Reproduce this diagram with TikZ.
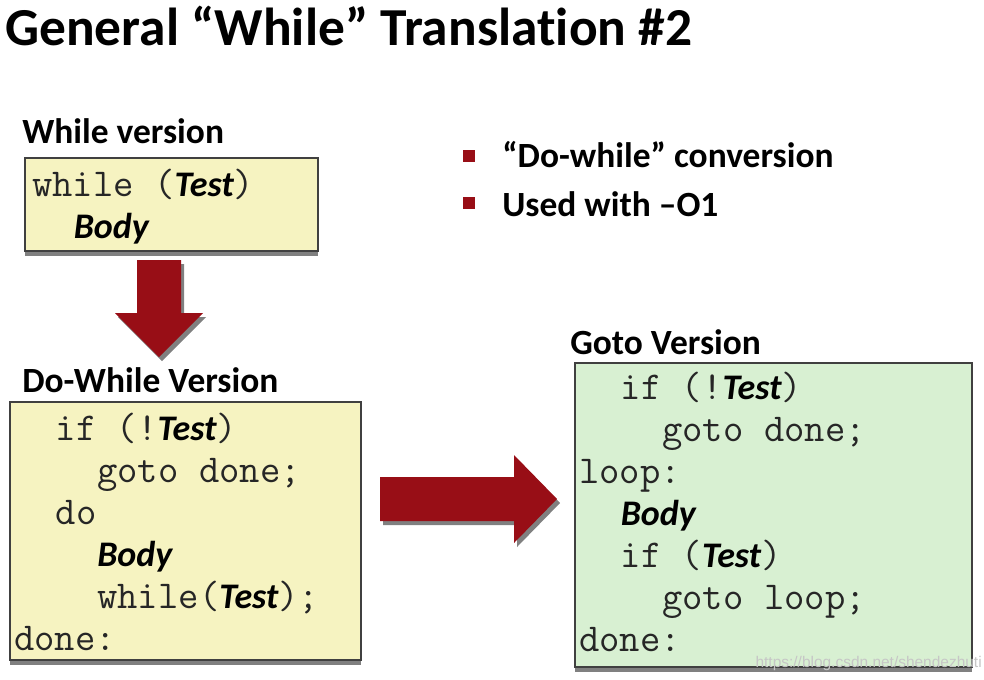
\documentclass[tikz,border=0pt]{standalone}
\usepackage{fontspec}
\setmainfont{Carlito}[Ligatures=NoCommon]
\newfontfamily\markfont{Liberation Sans}
\usetikzlibrary{positioning}
\definecolor{boxyellow}{RGB}{246,243,193}
\definecolor{boxgreen}{RGB}{216,240,210}
\definecolor{arrowred}{RGB}{152,14,22}
\definecolor{shadowgray}{RGB}{128,128,128}
\definecolor{rimgray}{RGB}{64,64,64}
\newcommand{\slot}[1]{{\color{black}\rmfamily\bfseries\itshape\fontsize{25.6}{30}\selectfont #1}}
\tikzset{
  code/.style={anchor=base west, inner sep=0pt, text=black!85, font=\ttfamily\fontsize{28.1}{30}\selectfont},
  heading/.style={anchor=base west, inner sep=0pt, font=\bfseries\fontsize{25.2}{28}\selectfont},
  codebox/.style={draw=rimgray, line width=0.9pt},
  boxshadow/.style={fill=shadowgray},
  bigarrow/.style={fill=arrowred},
}

\begin{document}
\begin{tikzpicture}[x=0.025cm, y=-0.025cm]
    \useasboundingbox[fill=white] (0,0) rectangle (984,679);
    % title and bullets
    \node[anchor=base west, inner sep=0pt, font=\bfseries\fontsize{38}{44}\selectfont] (title) at (5,45) {General “While” Translation \#2};
    \fill[arrowred] (463,150) rectangle (475,162);
    \node[heading] (bullet1) at (502,167) {“Do-while” conversion};
    \fill[arrowred] (463,197) rectangle (475,209);
    \node[heading] (bullet2) at (502,216) {Used with –O1};
    % while version
    \node[heading] (whilehead) at (22,143) {While version};
    \fill[boxshadow] (25,163) rectangle (318,256);
    \draw[codebox, fill=boxyellow] (25,158) rectangle (318,251);
    \foreach \n/\txt [count=\k from 0] in {0/while (\slot{Test}), 2/\slot{Body}}
        \node[code] (wv\k) at ({32+\n*20.75},{196+42*\k}) {\txt};
    % down arrow
    \fill[shadowgray] (140,264) -- (184,264) -- (184,317) -- (206,317) -- (162,361) -- (118,317) -- (140,317) -- cycle;
    \fill[bigarrow] (137,260) -- (181,260) -- (181,313) -- (203,313) -- (159,357) -- (115,313) -- (137,313) -- cycle;
    % do-while version
    \node[heading] (dohead) at (22,392) {Do-While Version};
    \fill[boxshadow] (10,407) rectangle (361,665);
    \draw[codebox, fill=boxyellow] (10,402) rectangle (361,660);
    \foreach \n/\txt [count=\k from 0] in {2/if (!\slot{Test}), 4/goto done;, 2/do, 4/\slot{Body}, 4/while(\slot{Test});, 0/done:}
        \node[code] (dw\k) at ({14+\n*20.75},{440+42*\k}) {\txt};
    % right arrow
    \fill[shadowgray] (383,481) -- (517,481) -- (517,459) -- (560,503) -- (517,547) -- (517,525) -- (383,525) -- cycle;
    \fill[bigarrow] (380,477) -- (514,477) -- (514,455) -- (557,499) -- (514,543) -- (514,521) -- (380,521) -- cycle;
    % goto version
    \node[heading] (gotohead) at (570,354) {Goto Version};
    \fill[boxshadow] (575,368) rectangle (972,672);
    \draw[codebox, fill=boxgreen] (575,363) rectangle (972,667);
    \foreach \n/\txt [count=\k from 0] in {2/if (!\slot{Test}), 4/goto done;, 0/loop:, 2/\slot{Body}, 2/if (\slot{Test}), 4/goto loop;, 0/done:}
        \node[code] (gt\k) at ({579+\n*20.75},{399+42*\k}) {\txt};
    \node[anchor=base east, inner sep=0pt, text=gray!45, font=\markfont\fontsize{11}{13}\selectfont] (mark) at (982,667) {https://blog.csdn.net/shendezhuti};
\end{tikzpicture}
\end{document}
